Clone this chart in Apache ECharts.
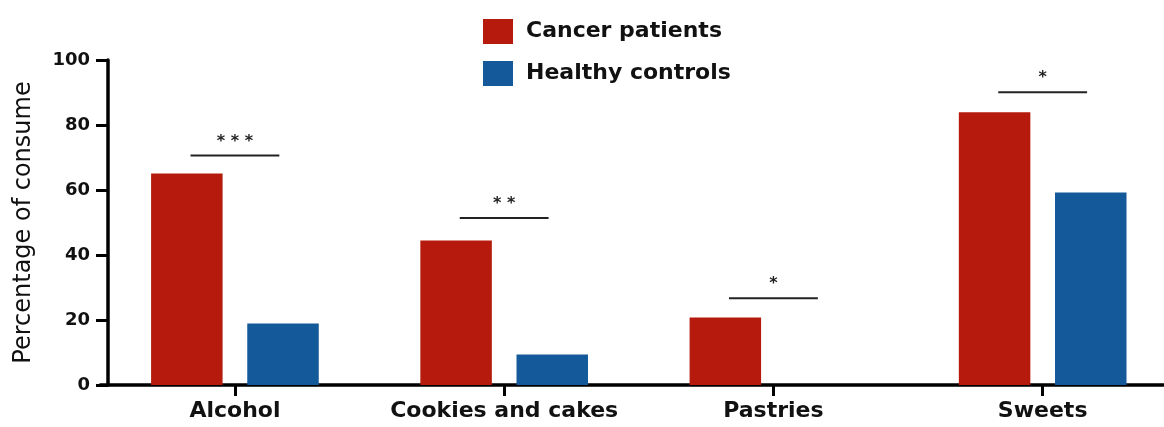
<!DOCTYPE html>
<html>
<head>
<meta charset="utf-8">
<script src="https://cdn.jsdelivr.net/npm/echarts@6/dist/echarts.min.js"></script>
<style>
html,body{margin:0;padding:0;background:#fff;}
#chart{width:1164px;height:427px;}
</style>
</head>
<body>
<div id="chart"></div>
<script>
const categories = ['Alcohol', 'Cookies and cakes', 'Pastries', 'Sweets'];
const cancerPatients = [65.1, 44.5, 20.8, 83.9];
const healthyControls = [18.9, 9.4, 0, 59.2];
const sigLevels = [70.6, 51.4, 26.7, 90.1];
const sigLabels = ['* * *', '* *', '*', '*'];
const yTicks = [0, 20, 40, 60, 80, 100];

const FONT = '"DejaVu Sans", sans-serif';
const chart = echarts.init(document.getElementById('chart'), null, {renderer: 'canvas'});

const option = {
  backgroundColor: '#ffffff',
  animation: false,
  grid: {left: 100.3, top: 60, width: 1077, bottom: 42, containLabel: false, outerBoundsMode: 'none'},
  legend: {
    data: ['Cancer patients', 'Healthy controls'],
    orient: 'vertical',
    left: 483,
    top: 19,
    padding: 0,
    itemWidth: 30,
    itemHeight: 25,
    itemGap: 17,
    icon: 'rect',
    textStyle: {fontFamily: FONT, fontWeight: 'bold', fontSize: 22, color: '#111', padding: [0, 0, 0, 8]}
  },
  xAxis: {
    type: 'category',
    data: categories,
    axisLine: {lineStyle: {color: '#000', width: 3.5}},
    axisTick: {show: true, alignWithLabel: true, interval: 0, length: 11, lineStyle: {color: '#000', width: 3}},
    axisLabel: {interval: 0, fontFamily: FONT, fontWeight: 'bold', fontSize: 22, color: '#111', margin: 15}
  },
  yAxis: {
    type: 'value',
    min: yTicks[0],
    max: yTicks[yTicks.length - 1],
    interval: 20,
    offset: -7.7,
    name: 'Percentage of consume',
    nameLocation: 'middle',
    nameGap: 72,
    nameTextStyle: {fontFamily: FONT, fontSize: 24, color: '#111'},
    axisLine: {show: true, lineStyle: {color: '#000', width: 3.5}},
    axisTick: {show: true, length: 12, lineStyle: {color: '#000', width: 3}},
    axisLabel: {fontFamily: FONT, fontWeight: 'bold', fontSize: 18, color: '#111', margin: 18},
    splitLine: {show: false}
  },
  series: [
    {
      name: 'Cancer patients',
      type: 'bar',
      data: cancerPatients,
      barWidth: 71.5,
      barGap: '34.5%',
      itemStyle: {color: '#B51A0D'}
    },
    {
      name: 'Healthy controls',
      type: 'bar',
      data: healthyControls,
      barWidth: 71.5,
      itemStyle: {color: '#145A9B'}
    },
    {
      name: 'sig',
      type: 'custom',
      data: sigLevels.map((v, i) => [i, v]),
      z: 10,
      renderItem: function (params, api) {
        const idx = api.value(0);
        const p = api.coord([idx, api.value(1)]);
        const band = api.size([1, 0])[0];
        const half = band * 0.165;
        return {
          type: 'group',
          children: [
            {
              type: 'line',
              shape: {x1: p[0] - half, y1: p[1], x2: p[0] + half, y2: p[1]},
              style: {stroke: '#222', lineWidth: 2}
            },
            {
              type: 'text',
              style: {
                x: p[0], y: p[1] - 14,
                text: sigLabels[idx],
                align: 'center', verticalAlign: 'middle',
                font: 'bold 16px "DejaVu Sans", sans-serif',
                fill: '#222'
              }
            }
          ]
        };
      }
    }
  ]
};
chart.setOption(option);
</script>
</body>
</html>
